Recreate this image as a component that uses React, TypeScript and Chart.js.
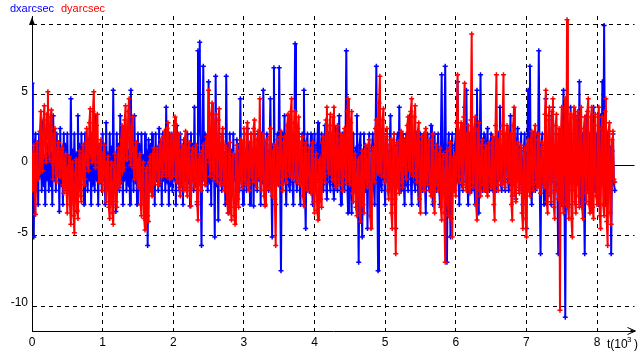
import React, { useEffect, useRef } from 'react';
import { Chart, registerables } from 'chart.js';

Chart.register(...registerables);

// sampling interval of the series, in units of 10^3 s
const T_STEP = 0.0125;

const SERIES_NAMES = ['dxarcsec', 'dyarcsec'];
const X_TICK_VALUES = [0, 1, 2, 3, 4, 5, 6, 7, 8];
const Y_TICK_VALUES = [-10, -5, 0, 5, 10];
const Y_TICK_LABELS = ['-10', '-5', '0', '5', ''];

const DX = [
  5.8, -1.2, -5.1, 1.4, 2.2, -1.8, 1.0, -2.8, 2.2, -0.8, 1.4, -1.8, 3.0, -1.4, 0.6, -2.8, 2.2, -1.0, 1.4, -1.8,
  2.2, -1.4, 0.8, -2.8, 3.5, -1.0, 1.4, -1.8, 2.2, -0.6, 1.0, -3.3, 2.6, -1.4, 0.8, -2.8, 2.2, -1.0, 1.4, -1.8,
  2.2, -1.0, 0.6, -2.8, 4.7, -1.4, 1.0, -1.8, 2.2, -1.2, 0.8, -3.3, 3.5, -1.0, 1.4, -1.8, 2.2, -0.6, 1.0, -2.8,
  2.2, -1.4, 1.0, -1.8, 1.8, -1.0, 0.6, -2.8, 2.2, -1.4, 1.2, -1.8, 3.5, -1.0, 0.8, -2.8, 1.4, -1.2, 1.0, -1.8,
  2.2, -1.0, 1.4, -2.8, 3.0, -1.4, 0.8, -1.8, 2.2, -1.0, 1.2, -2.8, 5.3, -1.4, 0.6, -3.3, 2.2, -1.0, 1.4, -1.8,
  3.5, -1.2, 0.8, -2.8, 2.6, -1.0, 1.4, -1.8, 2.2, -1.4, 1.0, -2.8, 5.3, -1.0, 0.8, -1.8, 3.5, -1.2, 1.2, -2.8,
  2.2, -1.0, 1.4, -1.8, 2.2, -1.4, 0.6, -2.8, 2.2, -1.2, 1.0, -5.7, 1.8, -1.0, 1.4, -1.8, 2.2, -1.4, 0.8, -2.8,
  2.2, -1.0, 1.2, -1.8, 2.6, -1.4, 0.8, -2.8, 2.2, -1.0, 1.4, -1.8, 4.1, -1.2, 1.0, -2.8, 2.2, -1.4, 0.6, -1.8,
  2.2, -1.0, 1.4, -2.8, 2.8, -1.2, 0.8, -1.8, 2.2, -1.4, 1.0, -2.8, 1.8, -1.0, 1.4, -1.8, 2.2, -1.2, 0.6, -2.9,
  2.2, -1.0, 1.4, -1.8, 4.1, -1.4, 0.8, -2.8, 8.1, 2.2, 8.7, -1.4, -5.7, 1.8, 7.0, -1.0, 2.2, -1.4, 1.0, -1.8,
  5.9, -1.2, 0.8, -2.8, 2.6, -1.0, 1.4, -5.1, 6.3, -1.4, 1.0, -3.9, 2.2, -1.0, 1.4, -1.8, 2.2, -1.2, 0.8, -2.8,
  6.3, -1.0, 1.4, -3.4, 2.2, -1.4, 1.0, -1.8, 2.2, -1.0, 0.6, -2.8, 1.8, -1.2, 1.4, -1.8, 4.7, -1.0, 0.8, -2.8,
  2.2, -1.4, 1.0, -1.8, 2.6, -1.0, 1.4, -2.8, 2.2, -1.2, 0.8, -2.9, 2.2, -1.4, 1.0, -1.8, 2.2, -1.0, 1.4, -2.8,
  2.2, -1.2, 5.3, -1.0, -2.8, 1.4, 2.2, -1.4, -1.8, 1.0, 4.7, -1.2, -5.1, 1.4, 6.9, -1.0, -2.8, 1.2, 2.2, -1.4,
  6.9, -1.0, -7.5, 1.4, 2.2, -1.2, 3.5, -1.0, -2.8, 1.4, 2.2, -1.4, -1.8, 1.0, 2.2, -1.2, -2.8, 1.4, 8.6, -1.0,
  -1.8, 1.4, 2.2, -1.2, -2.8, 1.0, 2.2, -1.4, 5.3, -1.0, -4.5, 1.4, 2.2, -1.2, -1.8, 1.0, 2.2, -1.4, -2.8, 1.2,
  2.2, -1.0, -1.8, 1.4, 3.0, -1.2, -2.4, 1.0, 2.2, -1.4, -1.8, 1.2, 2.8, -1.0, -2.4, 1.4, 2.2, -1.2, -1.8, 1.0,
  2.2, -1.4, -2.4, 1.2, 2.6, -1.0, -1.8, 1.4, 3.5, -1.2, -2.8, 1.0, 2.2, -1.4, -1.8, 1.2, 8.1, -1.0, -3.4, 1.4,
  2.2, -1.2, -3.4, 1.0, 2.2, -1.4, -1.8, 1.2, 3.5, -1.0, -6.9, 1.4, 2.2, -1.2, -5.1, 1.0, 2.2, -1.4, -1.8, 1.2,
  -4.5, 1.0, 2.2, -1.4, -1.8, 1.2, 2.2, -1.0, -2.8, 1.4, 7.0, -1.2, -7.5, 1.0, 2.2, -1.4, -1.8, 1.2, 2.2, -1.0,
  -2.8, 1.4, 2.2, -1.2, -1.8, 1.0, 3.5, -1.4, -2.8, 1.2, 2.2, -1.0, -4.5, 1.4, 2.2, -1.2, 4.1, -1.0, -1.8, 1.4,
  2.2, -1.2, -2.8, 1.0, 2.2, -1.4, -1.8, 1.2, 3.5, -1.0, -2.8, 1.4, 2.2, -1.2, -1.8, 1.0, 2.2, -1.4, -2.8, 1.2,
  2.2, -1.0, -1.8, 1.4, 2.2, -1.2, -3.4, 1.0, 2.2, -1.4, -1.8, 1.2, 2.8, -1.0, -2.8, 1.4, 2.2, -1.2, -1.8, 1.0,
  2.2, -1.4, -2.8, 1.2, 6.4, -1.0, -1.8, 1.4, 7.0, -1.2, -6.9, 1.0, 2.2, -1.4, -5.1, 1.2, 2.2, -1.0, -1.8, 1.4,
  2.2, -1.2, 5.9, -1.0, -2.8, 1.4, 2.2, -1.4, -1.8, 1.0, 4.1, -1.2, 5.3, -1.0, -2.8, 1.4, 2.2, -1.2, -1.8, 1.0,
  2.2, -1.4, -2.8, 1.2, 5.3, -1.0, -3.4, 1.4, 6.4, -1.2, -1.8, 1.0, 2.2, -1.4, -1.8, 1.2, 2.6, -1.0, -1.8, 1.4,
  2.2, -1.2, -1.8, 1.0, 1.8, -1.4, -1.8, 1.2, 2.2, -1.0, 4.1, -1.4, -1.8, 1.0, 2.2, -1.2, -1.8, 1.4, 2.2, -1.0,
  -1.8, 1.2, 3.5, -1.4, -2.2, 1.0, 2.2, -1.2, -2.4, 1.4, 2.6, -1.0, -1.8, 1.2, 2.2, -1.4, -2.8, 1.0, 2.2, -1.2,
  -4.5, 1.4, 5.3, -1.0, 7.0, -1.4, -2.8, 1.2, 2.2, -1.0, -1.8, 1.4, 2.2, -1.2, 8.1, -1.0, -6.3, 1.4, 2.2, -1.2,
  -2.8, 1.0, 4.7, -1.4, -2.2, 1.2, 3.5, -1.0, -2.8, 1.4, 4.1, -1.2, -1.8, 1.0, 2.2, -1.4, -6.3, 1.2, 2.2, -1.0,
  -2.8, 1.4, 5.3, -1.2, -10.8, 1.0, 2.2, -1.4, -2.8, 1.2, 4.1, -1.0, -1.8, 1.4, 2.2, -1.2, -2.8, 1.0, 3.5, -1.4,
  5.9, -1.0, -2.8, 1.2, 2.2, -1.4, -6.3, 1.0, 3.5, -1.2, -1.8, 1.4, 2.2, -1.0, -2.8, 1.2, 4.1, -1.4, -1.8, 1.0,
  2.2, -1.2, -2.8, 1.4, 3.5, -1.0, 5.9, -1.4, 9.9, -1.2, -2.8, 1.0, 2.2, -1.4, -1.8, 1.2, -6.3, 1.0, 2.2, -1.2,
  -1.8,
];

const DY = [
  -1.8, 0.6, 1.4, -1.2, -3.5, 0.8, 1.6, -1.0, -0.6, 2.4, 3.8, 0.4, -0.4, 3.2, 4.2, 0.6, 0.2, 3.6, 5.2, 1.0,
  0.4, 3.4, 3.9, 0.2, -1.0, 2.2, 2.6, -0.6, -1.2, 1.2, 1.6, -0.8, -0.8, 1.0, 1.2, -1.4, -2.0, 0.4, 0.8, -1.6,
  -3.4, -0.2, 0.6, -2.8, -4.2, -0.4, 0.2, -3.6, -4.8, -0.6, 0.4, -3.2, -3.8, 0.2, 1.0, -2.2, -2.6, 0.6, 1.4, -1.4,
  -1.0, 1.6, 2.6, 0.0, -0.4, 3.0, 4.0, 0.6, 0.2, 3.8, 5.2, 0.8, -0.2, 2.8, 3.6, 0.2, -1.2, 1.4, 1.8, -0.8,
  -1.8, 0.8, 1.4, -1.4, -2.6, 0.2, 0.6, -3.0, -3.8, -0.2, 0.2, -3.4, -4.2, 0.0, 0.8, -2.6, -3.0, 0.6, 1.2, -1.6,
  -1.2, 1.8, 2.8, -0.4, -0.2, 3.2, 4.2, 0.4, 0.4, 3.8, 4.7, 0.6, 0.0, 2.8, 3.4, -0.2, -1.0, 1.2, 1.6, -0.8,
  -1.6, 0.4, 0.8, -2.8, -3.6, -0.2, 0.2, -3.8, -4.6, -0.4, -0.2, -3.6, -4.0, 0.2, 0.6, -1.8, -2.2, 0.8, 1.2, -1.2,
  -1.0, 0.8, 1.2, -1.4, -1.2, 1.4, 1.8, -0.8, -0.6, 2.0, 2.4, -0.4, -0.8, 2.6, 3.0, -0.6, -1.0, 1.8, 2.2, -0.8,
  -0.6, 2.8, 3.4, -0.8, -1.2, 1.8, 2.2, -1.6, -2.2, 1.0, 1.4, -1.4, -1.8, 1.8, 2.4, -1.6, -2.2, 1.2, 1.6, -1.8,
  -2.9, 0.8, 1.2, -1.2, -1.6, 1.0, 1.4, -2.6, -3.9, 0.4, 0.8, -1.4, -1.8, 1.0, 1.4, -1.0, -1.4, 1.6, 2.0, 0.6,
  5.3, 0.2, -0.8, 3.6, 4.4, -0.4, -1.0, 2.8, 3.6, -0.6, -1.2, 3.2, 4.0, -0.8, -1.4, 2.0, 2.6, -1.2, -1.8, 1.4,
  1.2, -2.6, -3.4, 0.8, 1.6, -3.0, -3.9, 0.4, 0.8, -3.6, -4.2, 0.6, 1.4, -2.4, -3.0, 1.0, 1.8, -1.2, -1.6, 1.6,
  2.6, -1.0, -1.4, 2.2, 3.0, -1.4, -1.8, 1.6, 2.2, -0.8, -1.2, 2.6, 3.2, -1.2, -1.6, 1.8, 2.4, -0.8, 4.7, -1.0,
  -1.8, 1.8, 2.2, -2.2, -2.9, 1.4, 1.8, -1.2, -1.6, 2.0, 2.6, -1.8, -2.2, 1.0, 1.4, -2.4, -5.7, 1.2, 1.8, -1.0,
  -1.4, 2.0, 2.4, -1.4, -1.8, 1.6, 2.0, -0.8, -1.2, 2.8, 3.6, -0.4, -0.8, 3.8, 4.7, -0.6, -1.0, 3.0, 3.8, -0.8,
  -1.2, 2.6, 3.4, -1.0, -1.4, 1.6, 2.0, -2.2, -2.9, 1.2, 1.6, -1.4, -1.8, 0.8, 1.2, -1.6, -2.0, 1.2, 1.6, -2.6,
  -3.4, 0.4, 0.8, -3.2, -3.9, 0.2, 0.4, -2.4, -3.0, 1.6, 2.0, -0.8, -1.2, 3.2, 4.1, -0.2, -0.6, 2.8, 3.6, -0.6,
  -1.0, 3.4, 4.1, -1.2, -1.6, 2.2, 2.8, -1.0, -1.4, 1.8, 2.2, -1.4, -1.8, 2.0, 2.6, -0.8, -1.2, 3.8, 4.7, -1.0,
  -1.4, 3.0, 3.8, -2.0, -2.6, 0.4, 0.8, -3.0, -3.6, 0.2, 0.4, -3.4, -4.0, 0.6, 1.0, -2.8, -3.4, 1.0, 1.4, -1.2,
  -1.6, 1.4, 1.8, -3.6, -4.5, 0.8, 1.2, -0.8, -1.2, 2.6, 3.2, -0.4, -0.6, 4.4, 6.3, -0.4, -0.8, 3.2, 4.0, -0.8,
  -1.2, 2.0, 2.6, -1.8, -2.4, 1.4, 1.8, -3.4, -4.5, 1.8, 2.2, -2.4, -6.3, 1.2, 1.6, -1.6, -2.0, 1.8, 2.4, -1.2,
  -1.6, 1.4, 1.8, -0.6, -1.0, 2.8, 3.4, -0.2, -0.4, 3.8, 4.7, -0.4, -0.8, 3.4, 4.2, -0.8, -1.2, 2.4, 3.0, -2.4,
  -3.4, 1.6, 2.0, -1.4, -1.8, 2.2, 2.6, -1.0, -1.4, 1.4, 1.8, -1.8, -2.2, 1.8, 2.2, -2.6, -3.4, 1.0, 1.4, -1.4,
  -1.8, 0.8, 1.2, -3.0, -3.9, 0.4, 0.8, -3.4, -6.9, 0.6, 1.0, -2.8, -3.6, 1.2, 1.6, -3.8, -5.1, 0.4, 0.6, -1.8,
  -2.2, 3.0, 6.4, -0.8, -1.2, 2.4, 3.0, -1.2, -1.6, 3.4, 5.8, -1.4, -1.8, 2.2, 2.8, -1.6, -2.0, 3.2, 9.3, -1.2,
  -1.6, 2.6, 3.4, -2.8, -3.9, 2.4, 3.0, -1.8, -2.2, 1.4, 1.8, -1.4, -1.8, 1.0, 1.4, -1.8, -2.2, 1.2, 1.6, -1.2,
  -1.6, 1.6, 2.0, -2.8, -3.9, 2.8, 6.4, -1.4, -1.8, 1.8, 2.4, -1.0, -1.4, 2.8, 6.4, -1.2, -1.6, 2.2, 2.8, -0.8,
  -1.2, 1.8, 2.2, -2.8, -3.9, 2.8, 4.1, -2.0, -2.6, 1.2, 1.6, -1.6, -2.0, 1.0, 1.4, -3.4, -4.5, 0.8, 1.2, -3.8,
  -5.1, 1.4, 1.8, -1.8, -2.2, 1.8, 2.4, -1.4, -1.8, 2.2, 2.8, -1.2, -1.6, 1.8, 2.2, -1.6, -2.0, 1.2, 1.6, -1.2,
  -1.6, 3.6, 5.3, -2.6, -3.4, 3.2, 4.1, -2.0, -2.6, 3.8, 4.7, -3.0, -3.8, 2.8, 3.6, -1.8, -2.4, 2.6, -10.3, 2.0,
  4.1, -2.6, -3.4, 3.8, 4.7, -2.8, 10.3, -3.0, -3.8, 2.8, 3.6, -3.8, -5.1, 3.4, 4.1, -2.6, -3.4, 3.0, 3.8, -2.2,
  -3.0, 3.4, 4.1, -3.0, -3.8, 2.6, 3.4, -2.0, -2.6, 3.8, 4.7, -2.8, -3.4, 3.4, 4.1, -3.0, -3.8, 2.8, 3.6, -2.2,
  -2.8, 3.4, 4.1, -3.6, -4.5, 2.6, 3.4, -2.8, -3.6, 3.8, 4.7, -4.0, -5.7, 2.4, 3.0, -3.4, -4.2, 1.8, 2.4, -1.0,
  -1.2,
];

const X_MIN = 0;
const X_MAX = 8.53;
const Y_MIN = -11.77;
const Y_MAX = 10.57;

const FONT = '"Liberation Sans", Arial, sans-serif';

const decorPlugin = {
  id: 'decor',
  beforeDatasetsDraw(chart: any) {
    const { ctx, chartArea, scales } = chart;
    const y0 = Math.round(scales.y.getPixelForValue(0)) + 0.5;
    ctx.save();
    ctx.strokeStyle = '#000';
    ctx.lineWidth = 1;
    ctx.beginPath();
    ctx.moveTo(chartArea.left, y0);
    ctx.lineTo(chartArea.right, y0);
    ctx.stroke();
    ctx.restore();
  },
  afterDraw(chart: any) {
    const { ctx, chartArea } = chart;
    const L = chartArea.left;
    const B = chartArea.bottom;
    const T = chartArea.top;
    const R = chartArea.right;
    ctx.save();
    ctx.fillStyle = '#000';
    ctx.strokeStyle = '#000';
    ctx.lineWidth = 1;
    // y-axis arrow head
    ctx.beginPath();
    ctx.moveTo(L, T + 1);
    ctx.lineTo(L - 3, T + 9);
    ctx.lineTo(L + 3, T + 9);
    ctx.closePath();
    ctx.fill();
    // x-axis arrow head
    ctx.beginPath();
    ctx.moveTo(R - 7, B - 3.5);
    ctx.lineTo(R + 1, B);
    ctx.lineTo(R - 7, B + 3.5);
    ctx.stroke();
    ctx.beginPath();
    ctx.moveTo(R - 4, B - 1.5);
    ctx.lineTo(R + 1, B);
    ctx.lineTo(R - 4, B + 1.5);
    ctx.closePath();
    ctx.fill();
    // axis title t(10^3)
    ctx.textBaseline = 'alphabetic';
    ctx.textAlign = 'left';
    ctx.font = '12px ' + FONT;
    ctx.fillText('t(10', 607, 348);
    ctx.font = '8px ' + FONT;
    ctx.fillText('3', 627, 342);
    ctx.font = '12px ' + FONT;
    ctx.fillText(')', 634, 348);
    // legend
    ctx.font = '11px ' + FONT;
    ctx.fillStyle = '#0000ff';
    ctx.fillText(SERIES_NAMES[0], 10, 12);
    ctx.fillStyle = '#ff0000';
    ctx.fillText(SERIES_NAMES[1], 61, 12);
    ctx.restore();
  },
};

export default function App() {
  const canvasRef = useRef<HTMLCanvasElement | null>(null);

  useEffect(() => {
    const canvas = canvasRef.current;
    if (!canvas) return;
    const chart = new Chart(canvas, {
      type: 'line',
      data: {
        datasets: [
          {
            label: SERIES_NAMES[1],
            data: DY.map((v, i) => ({ x: i * T_STEP, y: v })),
            borderColor: '#ff0000',
            backgroundColor: '#ff0000',
            borderWidth: 2,
            pointStyle: 'cross',
            pointRadius: 2.5,
            pointBorderWidth: 1.5,
            pointBorderColor: '#ff0000',
            tension: 0,
            order: 1,
          },
          {
            label: SERIES_NAMES[0],
            data: DX.map((v, i) => ({ x: i * T_STEP, y: v })),
            borderColor: '#0000ff',
            backgroundColor: '#0000ff',
            borderWidth: 2,
            pointStyle: 'cross',
            pointRadius: 2.5,
            pointBorderWidth: 1.5,
            pointBorderColor: '#0000ff',
            tension: 0,
            order: 2,
          },
        ],
      },
      options: {
        animation: false,
        responsive: false,
        events: [],
        layout: { padding: { top: 16, right: 3, left: 0, bottom: 0 } },
        plugins: {
          legend: { display: false },
          tooltip: { enabled: false },
        },
        scales: {
          x: {
            type: 'linear',
            min: X_MIN,
            max: X_MAX,
            afterFit: (scale: any) => {
              scale.height = 29;
            },
            afterBuildTicks: (scale: any) => {
              scale.ticks = X_TICK_VALUES.map((v) => ({ value: v }));
            },
            ticks: {
              color: '#000',
              font: { family: FONT, size: 12 },
              padding: 4,
              maxRotation: 0,
              autoSkip: false,
              callback: (v: any) => String(v),
            },
            grid: {
              color: (c: any) => (c.tick && c.tick.value === 0 ? 'rgba(0,0,0,0)' : '#000'),
              lineWidth: 1,
              drawTicks: false,
            },
            border: { display: true, color: '#000', width: 1, dash: [4, 4] },
          },
          y: {
            type: 'linear',
            min: Y_MIN,
            max: Y_MAX,
            afterFit: (scale: any) => {
              scale.width = 32;
            },
            afterBuildTicks: (scale: any) => {
              scale.ticks = Y_TICK_VALUES.map((v) => ({ value: v }));
            },
            ticks: {
              color: '#000',
              font: { family: FONT, size: 12 },
              padding: 4,
              labelOffset: -3,
              autoSkip: false,
              callback: (v: any) => {
                const i = Y_TICK_VALUES.indexOf(Number(v));
                return i >= 0 ? Y_TICK_LABELS[i] : '';
              },
            },
            grid: {
              color: (c: any) => (c.tick && c.tick.value === 0 ? 'rgba(0,0,0,0)' : '#000'),
              lineWidth: 1,
              drawTicks: false,
            },
            border: { display: true, color: '#000', width: 1, dash: [4, 4] },
          },
        },
      },
      plugins: [decorPlugin],
    });
    return () => chart.destroy();
  }, []);

  return (
    <div style={{ position: 'fixed', left: 0, top: 0, width: 640, height: 360, background: '#fff' }}>
      <canvas ref={canvasRef} width={640} height={360} style={{ display: 'block' }} />
    </div>
  );
}
